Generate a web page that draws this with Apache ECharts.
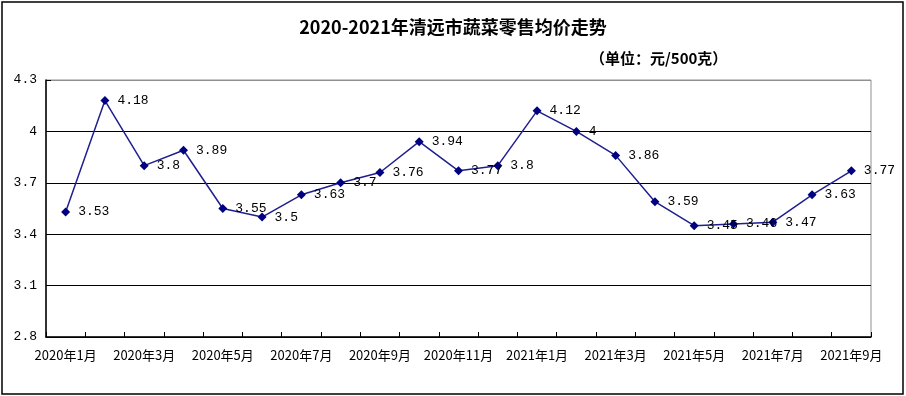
<!DOCTYPE html>
<html><head><meta charset="utf-8">
<script src="https://cdn.jsdelivr.net/npm/echarts@6/dist/echarts.min.js"></script>
<style>html,body{margin:0;padding:0;background:#fff}#c{width:906px;height:396px}</style>
</head><body><div id="c"></div>
<script>
const categories = ['2020年1月','2020年2月','2020年3月','2020年4月','2020年5月','2020年6月','2020年7月','2020年8月','2020年9月','2020年10月','2020年11月','2020年12月','2021年1月','2021年2月','2021年3月','2021年4月','2021年5月','2021年6月','2021年7月','2021年8月','2021年9月'];
const prices = [3.53,4.18,3.8,3.89,3.55,3.5,3.63,3.7,3.76,3.94,3.77,3.8,4.12,4,3.86,3.59,3.45,3.46,3.47,3.63,3.77];
const titleText = '2020-2021年清远市蔬菜零售均价走势';
const unitText = '（单位：元/500克）';

const chart = echarts.init(document.getElementById('c'));
chart.setOption({
  animation: false,
  backgroundColor: '#fff',
  title: [
    {text: titleText, left: 'center', top: 13, textStyle: {fontFamily: 'Noto Sans CJK SC', fontSize: 18, fontWeight: 'bold', color: '#000'}},
    {text: unitText, left: 585, top: 46, textStyle: {fontFamily: 'Noto Sans CJK SC', fontSize: 15, fontWeight: 'bold', color: '#000'}}
  ],
  graphic: [{type: 'rect', shape: {x: 2, y: 2, width: 901, height: 392}, style: {fill: 'none', stroke: '#000', lineWidth: 1.5}, silent: true}],
  grid: {left: 46, right: 35, top: 80, bottom: 59, show: true, borderColor: '#909090', borderWidth: 1},
  xAxis: {
    type: 'category', data: categories, boundaryGap: true,
    axisLine: {lineStyle: {color: '#000', width: 1.5}},
    axisTick: {show: true, inside: true, length: 5, interval: 0, lineStyle: {color: '#000'}},
    axisLabel: {interval: 1, color: '#000', fontFamily: 'Noto Sans CJK SC', fontSize: 13, margin: 12}
  },
  yAxis: {
    type: 'value', min: 2.8, max: 4.3, interval: 0.3,
    axisLine: {show: true, lineStyle: {color: '#000', width: 1.5}},
    axisTick: {show: true, inside: true, length: 5, lineStyle: {color: '#000'}},
    axisLabel: {color: '#000', fontFamily: 'Liberation Mono', fontSize: 13, margin: 9, formatter: v => String(Math.round(v*10)/10)},
    splitLine: {show: true, lineStyle: {color: ['#000','#000','#000','#000','#000','#909090'], width: 1.2}}
  },
  series: [{
    type: 'line', data: prices,
    symbol: 'diamond', symbolSize: 9,
    itemStyle: {color: '#000080'},
    lineStyle: {color: '#1f1f8f', width: 1.5},
    label: {show: true, position: 'right', distance: 8, color: '#000', fontFamily: 'Liberation Mono', fontSize: 13}
  }]
});
</script></body></html>
